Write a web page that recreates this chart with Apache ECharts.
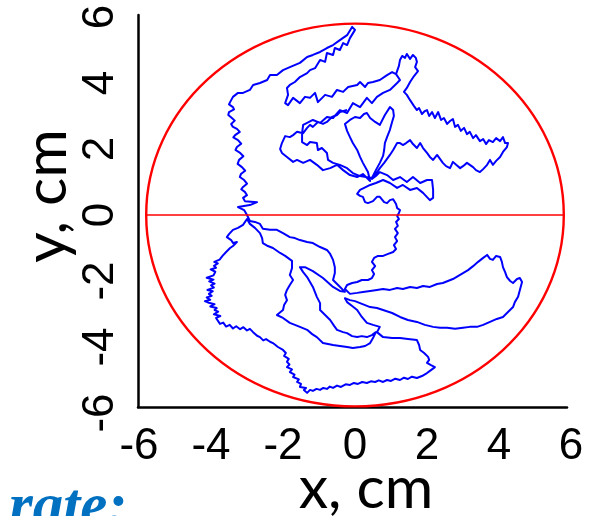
<!DOCTYPE html>
<html>
<head>
<meta charset="utf-8">
<script src="https://cdn.jsdelivr.net/npm/echarts@6/dist/echarts.min.js"></script>
<style>
  html, body { margin: 0; padding: 0; background: #ffffff; }
  #chart { width: 607px; height: 516px; }
</style>
</head>
<body>
<div id="chart"></div>
<script>
// Axis ticks (cm)
const xTicks = [-6, -4, -2, 0, 2, 4, 6];
const yTicks = [-6, -4, -2, 0, 2, 4, 6];

// Pool boundary radius (cm) and its centre
const arenaRadius = 5.8;
const arenaCentre = [0, 0];

// Swim path, [x, y] in cm, in recorded order
const track = [
  [-0.22,3.18],[-0.42,3.12],[-0.5,3.03],[-0.64,2.97],[-0.78,2.82],[-0.89,2.76],[-1.03,2.82],[-1.17,2.67],[-1.25,2.73],[-1.33,2.64],
  [-1.44,2.48],[-1.61,2.52],[-1.72,2.42],[-1.81,2.36],[-1.94,2.39],[-2.03,2.18],[-2.08,2.0],[-2.03,1.88],[-1.89,1.76],[-1.72,1.61],
  [-1.61,1.67],[-1.44,1.58],[-1.25,1.67],[-1.06,1.52],[-0.89,1.36],[-0.69,1.42],[-0.5,1.52],[-0.33,1.36],[-0.14,1.21],[0.06,1.15],
  [0.22,1.24],[0.42,1.03],
  [0.36,1.3],[0.22,1.58],[0.14,1.76],[0.06,1.97],[-0.06,2.18],[-0.14,2.36],[-0.22,2.55],[-0.28,2.76],[-0.14,2.88],[0,2.97],
  [0.14,2.94],[0.25,3.06],[0.33,3.09],[0.42,2.94],[0.56,2.82],[0.69,2.73],[0.83,3.03],[0.97,3.27],[1.06,3.18],[1.08,3.0],
  [1.03,2.82],[0.97,2.58],[0.89,2.36],[0.83,2.18],[0.81,1.97],[0.78,1.79],[0.69,1.58],[0.58,1.36],[0.47,1.12],
  [0.14,1.18],[-0.06,1.27],[-0.22,1.42],[-0.42,1.52],[-0.61,1.58],[-0.75,1.67],[-0.78,1.88],[-0.92,2.03],[-1.03,1.97],[-1.06,2.18],
  [-1.25,2.21],[-1.33,2.12],[-1.47,2.21],[-1.47,2.48],[-1.44,2.73],
  [-1.33,2.79],[-1.17,2.88],[-0.97,2.79],[-0.78,2.97],[-0.61,2.94],[-0.42,3.18],[-0.22,3.09],[-0.06,3.39],[0.14,3.27],[0.33,3.55],
  [0.47,3.39],[0.61,3.58],[0.78,3.7],[0.97,3.79],[1.17,4.0],[1.25,4.09],
  [1.14,4.27],[1.22,4.52],[1.25,4.7],[1.31,4.82],[1.39,4.76],[1.44,4.88],[1.53,4.73],[1.61,4.85],[1.69,4.76],[1.72,4.64],
  [1.67,4.48],[1.75,4.36],[1.64,4.21],[1.53,4.03],[1.44,3.85],[1.36,3.73],
  [1.44,3.64],[1.53,3.48],[1.58,3.42],[1.64,3.3],[1.72,3.18],[1.78,3.24],[1.86,3.06],[1.94,3.15],[2.0,3.18],[2.06,3.0],
  [2.14,3.12],[2.22,2.94],[2.31,3.12],[2.39,2.88],[2.47,2.94],[2.56,2.76],[2.64,2.85],[2.72,2.91],[2.78,2.67],[2.86,2.73],
  [2.94,2.55],[3.03,2.64],[3.11,2.45],[3.19,2.52],[3.28,2.33],[3.36,2.42],[3.47,2.24],[3.56,2.3],[3.64,2.15],[3.72,2.27],
  [3.83,2.21],[3.92,2.33],[4.03,2.24],[4.11,2.36],[4.17,2.18],[4.25,2.18],
  [4.22,2.06],[4.11,1.91],[4.03,1.76],[3.92,1.64],[3.83,1.52],[3.75,1.67],[3.67,1.52],[3.56,1.39],[3.47,1.3],[3.36,1.36],
  [3.28,1.45],[3.11,1.58],[3.0,1.48],[2.92,1.42],[2.81,1.52],[2.72,1.61],[2.64,1.42],[2.53,1.48],[2.44,1.58],[2.36,1.7],
  [2.28,1.82],[2.17,1.67],[2.08,1.76],[2.0,1.88],[1.89,2.03],[1.81,2.18],[1.72,2.03],[1.61,2.15],[1.53,2.27],[1.42,2.18],
  [1.33,2.12],[1.25,2.18],[1.17,2.18],[1.06,1.97],[0.97,1.82],[0.89,1.7],[0.81,1.58],[0.69,1.42],[0.58,1.24],[0.47,1.09],
  [0.58,1.18],[0.69,1.3],[0.89,1.21],[1.06,1.06],[1.25,1.15],[1.44,1.0],[1.61,1.15],[1.81,0.97],[2.0,1.06],[2.14,1.06],
  [2.17,0.76],[2.17,0.52],[2.08,0.45],[1.89,0.67],[1.72,0.82],[1.53,0.76],[1.33,0.91],[1.17,0.82],[0.97,0.97],[0.78,1.06],
  [0.58,0.97],[0.42,0.91],[0.31,0.85],
  [0.14,0.76],[0.06,0.64],[0.14,0.58],[0.22,0.55],[0.28,0.39],[0.36,0.36],[0.5,0.42],[0.61,0.55],[0.69,0.55],[0.81,0.39],
  [0.89,0.36],[0.97,0.45],[1.06,0.48],[1.14,0.33],[1.17,0.21],[1.25,0.15],[1.22,0.06],[1.17,-0.03],
  [1.22,-0.12],[1.14,-0.21],[1.19,-0.33],[1.11,-0.42],[1.19,-0.55],[1.11,-0.67],[1.17,-0.79],[1.08,-0.91],[1.14,-1.03],[1.06,-1.12],
  [0.92,-1.18],[0.78,-1.24],[0.64,-1.24],[0.53,-1.3],[0.47,-1.42],[0.56,-1.55],[0.47,-1.67],[0.53,-1.79],[0.47,-1.91],[0.36,-1.97],
  [0.19,-1.97],[0.06,-2.03],[-0.08,-2.06],[-0.22,-2.12],[-0.28,-2.24],
  [-0.14,-2.39],[0.06,-2.36],[0.22,-2.33],[0.42,-2.3],[0.61,-2.27],[0.78,-2.24],[0.97,-2.27],[1.17,-2.21],[1.33,-2.24],[1.53,-2.18],
  [1.72,-2.21],[1.89,-2.15],[2.08,-2.18],[2.28,-2.09],[2.44,-2.06],[2.58,-2.0],[2.72,-1.94],[2.86,-1.85],[3.0,-1.76],[3.14,-1.67],
  [3.28,-1.55],[3.42,-1.42],[3.56,-1.3],[3.67,-1.21],[3.75,-1.33],[3.83,-1.36],[3.92,-1.24],[4.03,-1.27],[4.08,-1.42],[4.11,-1.58],
  [4.17,-1.73],[4.22,-1.88],[4.31,-2.0],[4.39,-2.06],[4.5,-1.94],[4.58,-1.91],[4.64,-2.03],[4.58,-2.27],[4.53,-2.48],[4.44,-2.64],
  [4.39,-2.79],[4.25,-2.94],[4.11,-3.09],[3.94,-3.15],[3.75,-3.24],[3.56,-3.33],[3.39,-3.39],[3.19,-3.39],[3.0,-3.42],[2.78,-3.45],
  [2.56,-3.42],[2.36,-3.42],[2.17,-3.39],[1.94,-3.33],[1.72,-3.24],[1.47,-3.18],[1.25,-3.09],[1.03,-2.97],[0.78,-2.88],[0.61,-2.82],
  [0.42,-2.79],[0.28,-2.73],[0.14,-2.67],[0,-2.61],[-0.14,-2.58],[-0.28,-2.52],
  [-0.22,-2.64],[-0.08,-2.76],[0.06,-2.88],[0.19,-3.09],[0.33,-3.27],[0.5,-3.33],[0.69,-3.39],[0.61,-3.55],[0.78,-3.7],[1.03,-3.73],
  [1.25,-3.73],[1.47,-3.76],[1.72,-3.79],[1.78,-3.94],[1.81,-4.09],[1.92,-4.18],[2.03,-4.3],[2.06,-4.39],[2.0,-4.48],[2.11,-4.55],
  [2.22,-4.61],[2.11,-4.7],[2.0,-4.79],[1.86,-4.88],[1.72,-4.94],[1.58,-4.9],[1.47,-4.97],[1.36,-4.93],[1.25,-5.0],[1.12,-4.96],
  [1.0,-5.03],[0.89,-5.0],[0.78,-5.06],[0.66,-5.01],[0.56,-5.06],[0.44,-5.04],[0.33,-5.09],[0.2,-5.06],[0.08,-5.12],[-0.03,-5.09],
  [-0.14,-5.15],[-0.26,-5.13],[-0.39,-5.21],[-0.5,-5.17],[-0.61,-5.24],[-0.7,-5.2],[-0.78,-5.27],[-0.88,-5.24],[-0.97,-5.3],[-1.07,-5.27],
  [-1.17,-5.33],[-1.25,-5.3],[-1.33,-5.39],
  [-1.42,-5.3],[-1.36,-5.24],[-1.53,-5.21],[-1.5,-5.12],[-1.61,-5.06],[-1.56,-4.98],[-1.72,-4.91],[-1.68,-4.84],[-1.81,-4.76],[-1.75,-4.68],
  [-1.89,-4.61],[-1.82,-4.53],[-1.89,-4.45],[-1.84,-4.36],[-1.97,-4.27],[-1.92,-4.18],[-2.0,-4.09],
  [-2.14,-4.0],[-2.1,-3.94],[-2.28,-3.88],[-2.36,-3.84],[-2.47,-3.76],[-2.55,-3.8],[-2.64,-3.7],[-2.72,-3.66],[-2.83,-3.55],
  [-2.92,-3.45],[-3.0,-3.5],[-3.1,-3.4],[-3.19,-3.46],[-3.3,-3.37],[-3.39,-3.44],[-3.48,-3.33],[-3.58,-3.38],[-3.66,-3.26],[-3.75,-3.3],
  [-3.86,-3.12],[-3.74,-3.06],[-3.92,-3.01],[-3.8,-2.93],[-3.9,-2.88],[-3.84,-2.82],[-4.02,-2.77],[-3.9,-2.7],[-4.06,-2.66],[-4.17,-2.61],
  [-4.02,-2.57],[-4.12,-2.5],[-3.98,-2.45],[-4.06,-2.39],[-3.95,-2.31],[-4.1,-2.27],[-3.92,-2.2],[-4.0,-2.13],[-3.9,-2.08],[-4.05,-2.01],
  [-3.93,-1.96],[-4.12,-1.9],[-3.93,-1.83],[-3.98,-1.78],[-3.88,-1.72],[-4.01,-1.65],[-3.86,-1.6],[-3.92,-1.54],[-3.81,-1.47],[-3.91,-1.42],
  [-3.76,-1.35],[-3.8,-1.3],[-3.68,-1.24],[-3.72,-1.18],[-3.58,-1.12],[-3.6,-1.06],[-3.47,-1.0],[-3.39,-0.94],
  [-3.28,-0.82],[-3.39,-0.85],[-3.44,-0.76],[-3.56,-0.67],[-3.5,-0.58],[-3.39,-0.45],[-3.25,-0.39],[-3.11,-0.3],[-3.0,-0.12],
  [-2.92,-0.27],[-2.78,-0.39],[-2.64,-0.55],[-2.58,-0.7],[-2.56,-0.85],[-2.42,-0.94],[-2.28,-1.0],[-2.08,-1.15],[-1.94,-1.24],[-1.75,-1.39],
  [-1.75,-1.61],[-1.81,-1.82],[-1.72,-1.97],[-1.81,-2.12],[-1.89,-2.27],[-1.94,-2.42],[-1.89,-2.58],[-1.97,-2.73],[-2.0,-2.88],[-2.17,-3.03],
  [-2.0,-3.12],[-1.81,-3.27],[-1.67,-3.33],[-1.53,-3.39],[-1.33,-3.48],[-1.19,-3.61],[-1.06,-3.7],[-0.89,-3.88],[-0.75,-3.91],[-0.61,-3.94],
  [-0.42,-3.97],[-0.22,-4.0],[-0.06,-4.03],[0.14,-4.0],[0.28,-3.97],[0.42,-3.88],[0.5,-3.73],[0.58,-3.55],
  [0.47,-3.64],[0.33,-3.7],[0.19,-3.67],[0.06,-3.7],[-0.08,-3.67],[-0.22,-3.58],[-0.33,-3.55],[-0.5,-3.48],[-0.58,-3.36],[-0.69,-3.18],
  [-0.83,-3.03],[-0.97,-2.88],[-0.97,-2.67],[-1.06,-2.48],[-1.17,-2.18],[-1.25,-2.03],[-1.33,-1.88],[-1.44,-1.73],[-1.53,-1.58],[-1.39,-1.58],
  [-1.17,-1.7],[-0.89,-1.91],[-0.61,-2.18],[-0.42,-2.3],[-0.28,-2.33],
  [-0.47,-2.12],[-0.61,-1.97],[-0.56,-1.76],[-0.56,-1.58],[-0.61,-1.36],[-0.69,-1.18],[-0.78,-1.06],[-0.97,-0.97],[-1.17,-0.85],[-1.33,-0.82],
  [-1.53,-0.76],[-1.67,-0.7],[-1.81,-0.67],[-2.0,-0.55],[-2.17,-0.45],[-2.36,-0.45],[-2.56,-0.42],[-2.64,-0.27],[-2.78,-0.21],[-2.92,-0.18],
  [-3.0,0],
  [-3.08,0.15],[-3.25,0.24],[-2.92,0.3],[-2.72,0.39],[-3.06,0.42],[-3.11,0.52],[-3.0,0.6],[-3.06,0.7],[-3.16,0.78],[-3.11,0.85],
  [-3.0,0.95],[-3.08,1.06],[-3.2,1.15],[-3.17,1.24],[-3.05,1.34],[-3.14,1.45],[-3.26,1.55],[-3.22,1.67],[-3.1,1.78],[-3.19,1.88],
  [-3.32,1.97],[-3.28,2.06],[-3.16,2.16],[-3.25,2.27],[-3.38,2.35],[-3.33,2.42],[-3.2,2.52],[-3.28,2.61],[-3.4,2.68],[-3.44,2.76],
  [-3.34,2.86],[-3.42,2.94],[-3.52,3.03],[-3.5,3.12],[-3.36,3.2],[-3.39,3.27],[-3.5,3.35],[-3.47,3.42],[-3.39,3.58],
  [-3.25,3.7],[-3.11,3.7],[-2.92,3.79],[-2.83,3.94],[-2.64,4.0],[-2.44,4.09],[-2.36,4.24],[-2.17,4.24],[-2.0,4.39],[-1.81,4.48],
  [-1.53,4.61],[-1.33,4.79],[-1.17,4.85],[-0.97,4.94],[-0.78,5.06],[-0.61,5.15],[-0.42,5.3],[-0.22,5.45],[-0.08,5.7],[-0.03,5.76],
  [0,5.61],[-0.14,5.36],[-0.22,5.15],[-0.33,5.21],[-0.42,5.0],[-0.56,5.06],[-0.61,4.85],[-0.78,4.91],[-0.83,4.64],[-0.97,4.7],
  [-1.11,4.45],[-1.25,4.39],[-1.33,4.3],[-1.53,4.18],[-1.67,4.03],[-1.81,3.94],[-1.89,3.85],[-1.86,3.64],[-1.94,3.39],[-1.86,3.33],
  [-1.72,3.55],[-1.53,3.39],[-1.39,3.58],[-1.25,3.55],[-1.11,3.7],[-1.03,3.42],[-0.83,3.64],[-0.64,3.58],[-0.5,3.79],[-0.33,3.73],
  [-0.19,3.88],[0.06,3.94],[0.14,4.03],[0.28,3.88],[0.36,4.0],[0.5,4.03],[0.69,4.09],[0.89,4.24],[1.03,4.33],[1.14,4.27]
];

// Diameter drawn across the pool at y = 0
const diameterLine = [[-arenaRadius, 0], [arenaRadius, 0]];

const tickFont = 'Liberation Sans, Arial, sans-serif';
const titleFont = 'Lato, Carlito, Calibri, sans-serif';

const chart = echarts.init(document.getElementById('chart'), null, { renderer: 'canvas', width: 607, height: 516 });

const plainAxis = {
  axisTick: { show: false },
  splitLine: { show: false },
  minorTick: { show: false }
};

chart.setOption({
  animation: false,
  backgroundColor: '#ffffff',
  grid: [
    // data grid: -6..6 on both axes
    { left: 139, top: 17, width: 432, height: 396, containLabel: false, outerBoundsMode: 'none' },
    // frame grid carrying the two axis lines
    { left: 138, top: 15, width: 429, height: 392, containLabel: false, outerBoundsMode: 'none' }
  ],
  xAxis: [
    Object.assign({}, plainAxis, {
      type: 'value', gridIndex: 0,
      min: xTicks[0], max: xTicks[xTicks.length - 1], interval: xTicks[1] - xTicks[0],
      axisLine: { show: false },
      axisLabel: {
        show: true, color: '#000', fontSize: 44, fontFamily: tickFont, margin: 12,
        showMinLabel: true, showMaxLabel: true, hideOverlap: false
      }
    }),
    Object.assign({}, plainAxis, {
      type: 'value', gridIndex: 1, min: 0, max: 1,
      axisLine: { show: true, onZero: false, lineStyle: { color: '#000', width: 2.5 } },
      axisLabel: { show: false }
    })
  ],
  yAxis: [
    Object.assign({}, plainAxis, {
      type: 'value', gridIndex: 0,
      min: yTicks[0], max: yTicks[yTicks.length - 1], interval: yTicks[1] - yTicks[0],
      axisLine: { show: false },
      axisLabel: {
        show: true, color: '#000', fontSize: 44, fontFamily: tickFont, margin: 16, rotate: 90,
        showMinLabel: true, showMaxLabel: true, hideOverlap: false
      }
    }),
    Object.assign({}, plainAxis, {
      type: 'value', gridIndex: 1, min: 0, max: 1,
      axisLine: { show: true, onZero: false, lineStyle: { color: '#000', width: 2.5 } },
      axisLabel: { show: false }
    })
  ],
  series: [
    {
      type: 'line', xAxisIndex: 0, yAxisIndex: 0,
      data: track,
      symbol: 'none', showSymbol: false, smooth: false, sampling: null,
      lineStyle: { color: '#0000ff', width: 2, join: 'round' },
      silent: true, z: 2
    },
    {
      // pool wall
      type: 'custom', xAxisIndex: 0, yAxisIndex: 0,
      data: [arenaCentre],
      silent: true, z: 3,
      renderItem: function (params, api) {
        const c = api.coord([api.value(0), api.value(1)]);
        const s = api.size([arenaRadius, arenaRadius]);
        return {
          type: 'ellipse',
          shape: { cx: c[0], cy: c[1], rx: s[0], ry: s[1] },
          style: { fill: 'none', stroke: '#ff0000', lineWidth: 2.4 }
        };
      }
    },
    {
      type: 'line', xAxisIndex: 0, yAxisIndex: 0,
      data: diameterLine,
      symbol: 'none', showSymbol: false,
      lineStyle: { color: '#ff0000', width: 1.5 },
      silent: true, z: 3
    }
  ],
  graphic: [
    {
      type: 'text', x: 366, y: 489,
      style: { text: 'x, cm', font: '59px ' + titleFont, fill: '#000', align: 'center', verticalAlign: 'middle' }
    },
    {
      type: 'text', x: 47, y: 196, rotation: Math.PI / 2,
      style: { text: 'y, cm', font: '59px ' + titleFont, fill: '#000', align: 'center', verticalAlign: 'middle' }
    },
    {
      type: 'text', x: 9, y: 540,
      style: { text: 'rate:', font: 'italic bold 61px "Liberation Serif", "Times New Roman", serif', fill: '#0070c0', align: 'left', verticalAlign: 'bottom' }
    }
  ]
});
</script>
</body>
</html>
